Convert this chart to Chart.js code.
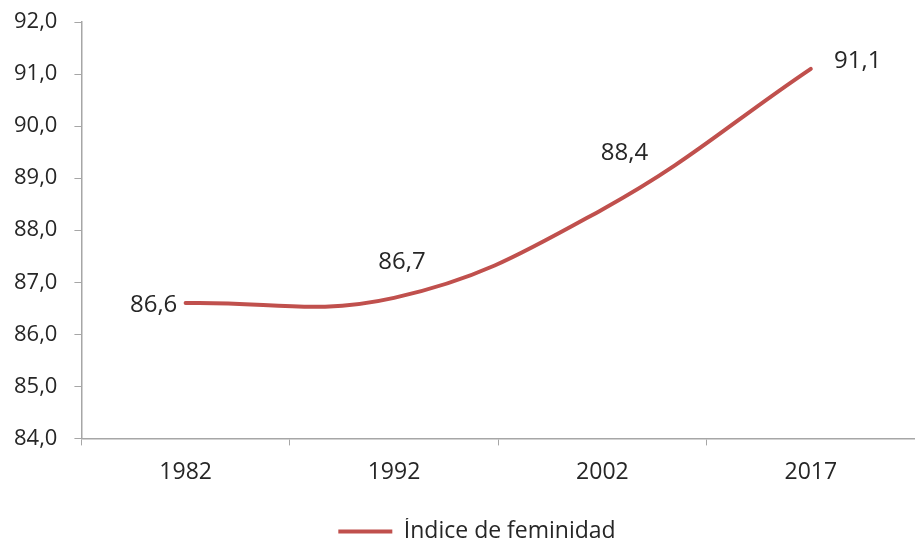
<!DOCTYPE html>
<html>
<head>
<meta charset="utf-8">
<script src="https://cdn.jsdelivr.net/npm/chart.js@4/dist/chart.umd.min.js"></script>
<style>
    html, body { margin: 0; padding: 0; background: #ffffff; }
    #wrap { width: 915px; height: 540px; position: relative; }
</style>
</head>
<body>
<div id="wrap"><canvas id="chart"></canvas></div>
<script>
// Data
const years = ['1982', '1992', '2002', '2017'];
const indiceFeminidad = [86.6, 86.7, 88.4, 91.1];
const seriesName = 'Índice de feminidad';
const yMin = 84;
const yMax = 92;

const LINE_COLOR = '#C0504D';
const TEXT_COLOR = '#262626';
const AXIS_COLOR = '#A6A6A6';
const FONT = "'Open Sans', 'Noto Sans', sans-serif";

// where each value label sits relative to its point
const labelPlacement = [
    { dx: -32, dy: 2 },
    { dx: 8, dy: -36 },
    { dx: 22, dy: -56 },
    { dx: 47, dy: -8 }
];

function formatComma(value) {
    return value.toFixed(1).replace('.', ',');
}

const valueLabels = {
    id: 'valueLabels',
    afterDatasetsDraw(chart) {
        const ctx = chart.ctx;
        const meta = chart.getDatasetMeta(0);
        ctx.save();
        ctx.font = `24px ${FONT}`;
        ctx.fillStyle = TEXT_COLOR;
        ctx.textAlign = 'center';
        ctx.textBaseline = 'middle';
        meta.data.forEach((pt, i) => {
            const p = labelPlacement[i];
            ctx.fillText(formatComma(chart.data.datasets[0].data[i]), pt.x + p.dx, pt.y + p.dy);
        });
        ctx.restore();
    }
};

// the legend sits a little right of the page centre in the original
const legendShift = {
    id: 'legendShift',
    afterLayout(chart) {
        chart.legend.left += 21;
        chart.legend.right += 21;
    }
};

document.addEventListener('DOMContentLoaded', () => {
    const ctx = document.getElementById('chart').getContext('2d');
    new Chart(ctx, {
        type: 'line',
        data: {
            labels: years,
            datasets: [{
                label: seriesName,
                data: indiceFeminidad,
                borderColor: LINE_COLOR,
                backgroundColor: LINE_COLOR,
                borderWidth: 4,
                borderCapStyle: 'round',
                pointRadius: 0,
                pointHoverRadius: 0,
                tension: 0.4,
                fill: false
            }]
        },
        options: {
            responsive: true,
            maintainAspectRatio: false,
            animation: false,
            layout: {
                padding: { left: -3, right: 0, top: 0, bottom: -13 }
            },
            plugins: {
                tooltip: { enabled: false },
                legend: {
                    position: 'bottom',
                    labels: {
                        usePointStyle: true,
                        pointStyle: 'line',
                        pointStyleWidth: 54,
                        color: TEXT_COLOR,
                        padding: 2,
                        font: { family: FONT, size: 23 }
                    }
                }
            },
            scales: {
                x: {
                    offset: true,
                    grid: {
                        offset: true,
                        drawOnChartArea: false,
                        drawTicks: true,
                        tickLength: 7,
                        color: AXIS_COLOR
                    },
                    border: { color: AXIS_COLOR, width: 1.5 },
                    ticks: {
                        color: TEXT_COLOR,
                        padding: 13,
                        maxRotation: 0,
                        font: { family: FONT, size: 23 }
                    },
                    afterFit: scale => { scale.height += 19; }
                },
                y: {
                    min: yMin,
                    max: yMax,
                    grid: {
                        drawOnChartArea: false,
                        drawTicks: true,
                        tickLength: 7,
                        color: AXIS_COLOR
                    },
                    border: { color: AXIS_COLOR, width: 1.5 },
                    ticks: {
                        stepSize: 1,
                        color: TEXT_COLOR,
                        padding: 17,
                        font: { family: FONT, size: 22 },
                        callback: value => formatComma(value)
                    },
                    afterFit: scale => { scale.paddingTop = 22; }
                }
            }
        },
        plugins: [valueLabels, legendShift]
    });
});
</script>
</body>
</html>
